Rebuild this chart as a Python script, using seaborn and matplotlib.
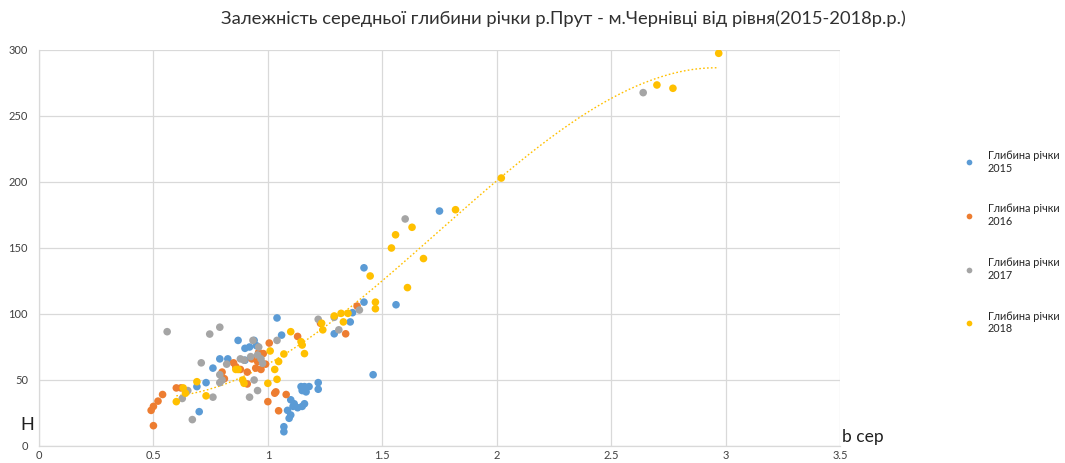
import numpy as np
import pandas as pd
import matplotlib
matplotlib.use("Agg")
import matplotlib.pyplot as plt
import seaborn as sns

# Mean width b (x) vs. mean depth H (y) for each year of observations
b_2015 = [1.75, 1.56, 1.46, 1.42, 1.42, 1.37, 1.36, 1.29, 1.04, 1.06, 0.87, 0.90,
          0.92, 0.95, 0.94, 0.90, 0.79, 0.825, 0.76, 0.73, 0.69, 0.70, 1.145, 1.16,
          1.18, 1.22, 1.22, 1.15, 1.167, 1.10, 1.115, 1.11, 1.13, 1.16, 1.15, 1.086,
          1.10, 1.093, 1.07, 1.07]
h_2015 = [178, 107, 54, 135, 109, 101, 94, 85, 97, 84, 80, 74,
          75, 76, 80, 65, 66, 66, 59, 48, 45, 26, 45, 45,
          45, 48, 43, 42, 41, 35, 32, 30, 29, 32, 30, 27,
          23.5, 21, 14.6, 10.8]

b_2016 = [0.49, 0.50, 0.50, 0.52, 0.54, 0.60, 0.62, 0.81, 0.80, 0.85, 0.86, 0.88,
          0.91, 0.947, 0.955, 0.91, 0.96, 0.93, 0.98, 1.006, 1.13, 1.23, 1.34, 1.39,
          1.03, 1.035, 1.08, 1.00, 1.047, 0.97, 0.99]
h_2016 = [27, 30, 15.4, 34, 39, 44, 44, 51, 56, 63, 60, 58,
          56, 59, 64, 47, 71, 66, 70, 78, 83, 93, 85, 106,
          40, 41, 39, 33.6, 26.7, 58, 62]

b_2017 = [0.56, 0.746, 0.79, 0.709, 0.79, 0.79, 0.80, 0.65, 0.626, 0.67, 0.76, 0.92,
          0.955, 0.94, 0.88, 0.896, 0.925, 0.955, 0.977, 0.935, 0.96, 1.04, 0.97, 1.22,
          1.29, 1.31, 1.40, 1.60, 2.64, 0.82]
h_2017 = [86.6, 84.8, 90, 63, 54, 48, 50, 42, 36, 20, 37, 37,
          42, 50, 66, 65, 67.7, 69, 62.6, 80, 75, 80, 66, 96,
          97.5, 88, 103, 172, 267.7, 62]

b_2018 = [0.60, 0.63, 0.64, 0.69, 0.73, 0.86, 0.87, 0.89, 0.896, 1.00, 1.04, 1.03,
          1.047, 1.01, 1.07, 1.10, 1.145, 1.15, 1.16, 1.24, 1.235, 1.29, 1.32, 1.35,
          1.33, 1.447, 1.47, 1.47, 1.54, 1.558, 1.61, 1.63, 1.68, 1.82, 2.02, 2.70,
          2.77, 2.97]
h_2018 = [33.6, 44, 40, 48.7, 38, 58, 58, 50, 47.5, 47.5, 50.5, 58,
          64, 72, 69.7, 86.6, 79, 76.5, 70, 88, 93, 98.5, 100.5, 100.5,
          94, 128.8, 109, 104, 150, 160, 120, 165.7, 142, 179, 203, 273.5,
          271, 297.5]

years = ["2015", "2016", "2017", "2018"]
series_b = [b_2015, b_2016, b_2017, b_2018]
series_h = [h_2015, h_2016, h_2017, h_2018]
series_label = "Глибина річки\n{}"

x_ticks = [0, 0.5, 1, 1.5, 2, 2.5, 3, 3.5]
x_tick_labels = ["0", "0.5", "1", "1.5", "2", "2.5", "3", "3.5"]
y_ticks = [0, 50, 100, 150, 200, 250, 300]

title = "Залежність середньої глибини річки р.Прут - м.Чернівці від рівня(2015-2018р.р.)"

frames = []
for yr, bx, hy in zip(years, series_b, series_h):
    frames.append(pd.DataFrame({"b": bx, "H": hy, "series": series_label.format(yr)}))
df = pd.concat(frames, ignore_index=True)

palette = ["#5B9BD5", "#ED7D31", "#A5A5A5", "#FFC000"]

sns.set_theme(style="white")
plt.rcParams["font.family"] = ["Lato", "DejaVu Sans"]

fig = plt.figure(figsize=(10.65, 4.63), dpi=100)
ax = fig.add_axes([39 / 1065, 17 / 463, (840 - 39) / 1065, (446 - 50) / 463])

sns.scatterplot(data=df, x="b", y="H", hue="series", palette=palette,
                s=30, linewidth=0, ax=ax, zorder=3)

# third-order polynomial trend for the 2018 series
coef = np.polyfit(b_2018, h_2018, 3)
xs = np.linspace(min(b_2018), max(b_2018), 200)
ax.plot(xs, np.polyval(coef, xs), color="#FFC000", lw=1.0, ls=(0, (1.2, 1.6)), zorder=2)

ax.set_xlim(0, 3.5)
ax.set_ylim(0, 300)
ax.set_xticks(x_ticks)
ax.set_xticklabels(x_tick_labels)
ax.set_yticks(y_ticks)
ax.grid(True, color="#D9D9D9", lw=0.9)
ax.set_axisbelow(True)
for side in ["top", "right"]:
    ax.spines[side].set_visible(False)
for side in ["left", "bottom"]:
    ax.spines[side].set_color("#D9D9D9")
    ax.spines[side].set_linewidth(0.9)
ax.tick_params(axis="both", labelsize=8, colors="#404040", length=0)
ax.tick_params(axis="x", pad=3)
ax.tick_params(axis="y", pad=8)
ax.set_xlabel("")
ax.set_ylabel("")

fig.text(20 / 1065, 1 - 425 / 463, "H", fontsize=13, color="#202020", ha="left", va="center")
fig.text(842 / 1065, 1 - 437 / 463, "b сер", fontsize=12.5, color="#202020", ha="left", va="center")
fig.text(563 / 1065, 1 - 19 / 463, title, fontsize=13.2, color="#303030", ha="center", va="center")

handles, labels = ax.get_legend_handles_labels()
ax.legend(handles, labels, loc="upper left", bbox_to_anchor=(953 / 1065, 1 - 140 / 463),
          bbox_transform=fig.transFigure, frameon=False, fontsize=7.8,
          labelspacing=2.75, handletextpad=1.1, markerscale=0.75, handlelength=1.2)

fig.savefig("out.png", dpi=100)
